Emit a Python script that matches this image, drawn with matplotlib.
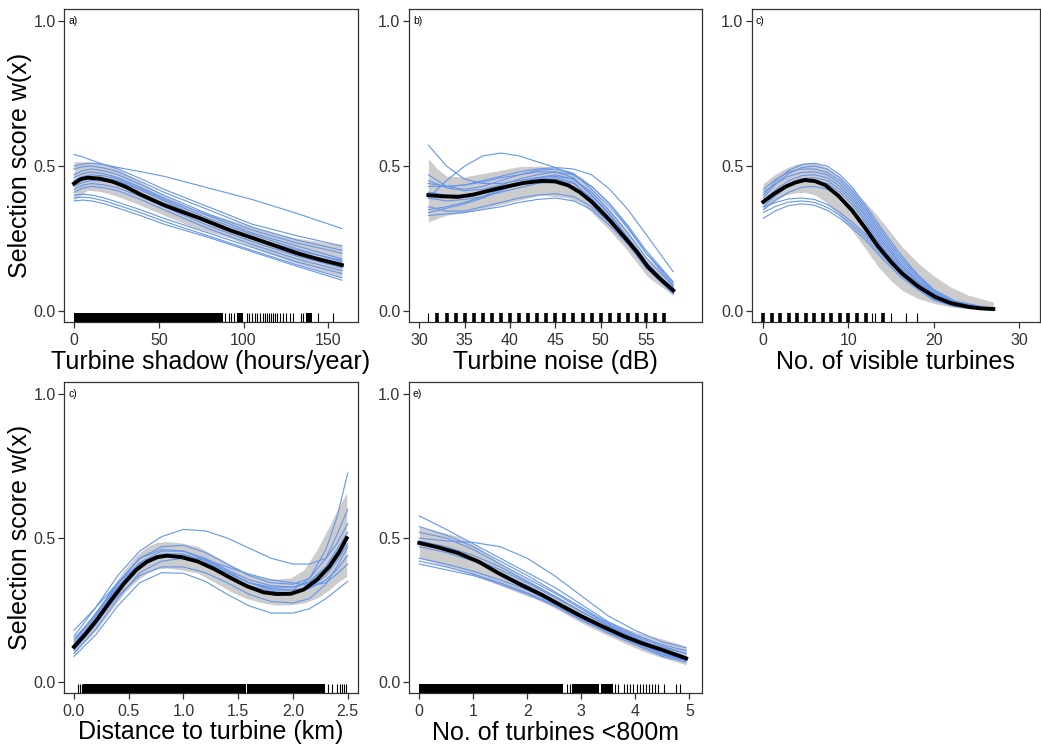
import numpy as np
import matplotlib.pyplot as plt

plt.rcParams['font.family'] = ['Liberation Sans', 'DejaVu Sans']

W, H = 1041, 749
GREY_RIBBON = '#cccccc'
BLUE = '#6495ed'
TICK_COL = '#333333'

#-------------------------------------
# a) Turbine shadow
#-------------------------------------
a_mean_x = [0, 4, 8, 15, 23, 30, 40, 53, 63, 73, 83, 92, 102, 112, 122, 132, 145, 158]
a_mean_y = [0.44, 0.455, 0.46, 0.457, 0.446, 0.43, 0.40, 0.366, 0.344, 0.323, 0.30,
            0.279, 0.259, 0.239, 0.219, 0.199, 0.178, 0.159]
a_rib_x = [0, 8, 15, 23.6, 35, 53, 70, 92.4, 112, 131.6, 158]
a_rib_hi = [0.515, 0.515, 0.51, 0.498, 0.46, 0.40, 0.353, 0.314, 0.279, 0.251, 0.228]
a_rib_lo = [0.383, 0.417, 0.413, 0.40, 0.375, 0.331, 0.29, 0.251, 0.205, 0.164, 0.118]
a_boot_x = [0, 5, 10.5, 18, 26, 40, 53, 79, 105, 131.5, 158]
a_boot = [
    [0.50, 0.507, 0.51, 0.505, 0.495, 0.48, 0.465, 0.425, 0.385, 0.337, 0.285],
    [0.54, 0.532, 0.52, 0.505, 0.49, 0.455, 0.42, 0.36, 0.30, 0.26, 0.225],
    [0.49, 0.498, 0.50, 0.493, 0.48, 0.445, 0.41, 0.35, 0.29, 0.245, 0.21],
    [0.47, 0.484, 0.49, 0.483, 0.47, 0.435, 0.40, 0.335, 0.28, 0.235, 0.20],
    [0.46, 0.474, 0.48, 0.473, 0.46, 0.425, 0.39, 0.33, 0.27, 0.225, 0.18],
    [0.45, 0.464, 0.47, 0.466, 0.455, 0.42, 0.385, 0.32, 0.265, 0.215, 0.17],
    [0.43, 0.444, 0.45, 0.448, 0.44, 0.405, 0.37, 0.305, 0.25, 0.20, 0.165],
    [0.42, 0.434, 0.44, 0.435, 0.425, 0.393, 0.36, 0.295, 0.24, 0.19, 0.15],
    [0.41, 0.424, 0.43, 0.425, 0.415, 0.383, 0.35, 0.285, 0.23, 0.18, 0.14],
    [0.40, 0.403, 0.40, 0.39, 0.375, 0.348, 0.32, 0.27, 0.22, 0.17, 0.13],
    [0.39, 0.393, 0.39, 0.38, 0.365, 0.338, 0.31, 0.26, 0.21, 0.16, 0.115],
    [0.38, 0.383, 0.38, 0.37, 0.355, 0.328, 0.30, 0.255, 0.205, 0.155, 0.107],
    [0.44, 0.454, 0.46, 0.457, 0.45, 0.415, 0.38, 0.31, 0.255, 0.21, 0.175],
]
a_rug_blocks = [(0, 87.7), (96.3, 99.8), (136.8, 140.1)]
a_rug = [89.2, 91.2, 92.7, 94.5, 101.8, 103.4, 105, 106.8, 108.1, 109.7, 111.3,
         112.6, 113.6, 114.8, 116, 117.2, 118.5, 119.9, 121.5, 123, 125, 127.4,
         129.3, 133.8, 134.8, 144, 152.5]

#-------------------------------------
# b) Turbine noise
#-------------------------------------
b_mean_x = [31, 32.5, 34.3, 36, 37.9, 40, 41.5, 43.5, 45, 46.4, 47.7, 49, 50.8,
            52.6, 54, 55.2, 56.6, 58]
b_mean_y = [0.40, 0.396, 0.394, 0.402, 0.417, 0.432, 0.442, 0.449, 0.447, 0.434,
            0.41, 0.377, 0.32, 0.256, 0.205, 0.153, 0.11, 0.072]
b_rib_x = [31, 32, 33, 35, 38, 41, 43.5, 46.4, 48, 49, 50.8, 52.6, 55.2, 58]
b_rib_hi = [0.526, 0.49, 0.465, 0.463, 0.48, 0.498, 0.50, 0.486, 0.46, 0.423, 0.36,
            0.291, 0.181, 0.101]
b_rib_lo = [0.308, 0.32, 0.331, 0.34, 0.36, 0.383, 0.40, 0.39, 0.37, 0.34, 0.285,
            0.222, 0.118, 0.055]
b_boot_x = [31, 33, 35, 37, 39, 41, 43, 45, 47, 49, 51, 53, 55, 58]
b_boot = [
    [0.39, 0.45, 0.50, 0.535, 0.545, 0.535, 0.515, 0.495, 0.47, 0.43, 0.37, 0.295, 0.21, 0.10],
    [0.572, 0.50, 0.455, 0.44, 0.44, 0.45, 0.46, 0.465, 0.455, 0.41, 0.345, 0.27, 0.185, 0.085],
    [0.44, 0.43, 0.435, 0.45, 0.465, 0.48, 0.49, 0.495, 0.49, 0.47, 0.42, 0.35, 0.265, 0.136],
    [0.47, 0.43, 0.42, 0.43, 0.45, 0.47, 0.485, 0.49, 0.475, 0.42, 0.36, 0.285, 0.20, 0.10],
    [0.43, 0.43, 0.435, 0.445, 0.46, 0.47, 0.48, 0.48, 0.46, 0.40, 0.335, 0.255, 0.17, 0.075],
    [0.34, 0.355, 0.37, 0.39, 0.415, 0.44, 0.46, 0.47, 0.455, 0.40, 0.33, 0.25, 0.165, 0.07],
    [0.36, 0.345, 0.345, 0.36, 0.375, 0.39, 0.40, 0.405, 0.395, 0.36, 0.305, 0.235, 0.155, 0.07],
    [0.33, 0.335, 0.34, 0.35, 0.36, 0.375, 0.385, 0.39, 0.38, 0.35, 0.295, 0.23, 0.15, 0.065],
    [0.41, 0.40, 0.40, 0.41, 0.42, 0.435, 0.45, 0.455, 0.44, 0.39, 0.32, 0.24, 0.155, 0.065],
    [0.39, 0.38, 0.385, 0.395, 0.41, 0.425, 0.44, 0.445, 0.43, 0.375, 0.31, 0.235, 0.15, 0.06],
    [0.45, 0.425, 0.415, 0.42, 0.435, 0.455, 0.47, 0.48, 0.47, 0.43, 0.37, 0.29, 0.20, 0.09],
    [0.35, 0.36, 0.375, 0.395, 0.42, 0.44, 0.455, 0.46, 0.445, 0.385, 0.315, 0.235, 0.155, 0.06],
]
b_rug_thick = [32, 33, 34, 35, 36, 37, 38, 39, 40, 41, 42, 43, 44, 45, 46, 47,
               48, 49, 50, 51, 52, 53, 54, 55, 56, 57]
b_rug = [31]

#-------------------------------------
# c) No. of visible turbines
#-------------------------------------
c_mean_x = [0, 1.3, 2.6, 3.8, 4.9, 6.1, 7.3, 8.8, 10.4, 12, 13.5, 15, 16.3, 18.2,
            20.2, 22, 24.1, 25.5, 27]
c_mean_y = [0.377, 0.405, 0.429, 0.444, 0.452, 0.448, 0.434, 0.398, 0.348, 0.285,
            0.222, 0.17, 0.13, 0.085, 0.049, 0.028, 0.015, 0.01, 0.008]
c_rib_x = [0, 1.3, 2.6, 3.8, 4.9, 6.1, 7.3, 8.8, 10.4, 12, 13.5, 15, 16.3, 18.2,
           20.2, 22, 24.1, 27]
c_rib_hi = [0.44, 0.47, 0.492, 0.506, 0.512, 0.51, 0.498, 0.468, 0.423, 0.375, 0.325,
            0.27, 0.222, 0.165, 0.118, 0.083, 0.055, 0.032]
c_rib_lo = [0.348, 0.377, 0.40, 0.408, 0.41, 0.40, 0.377, 0.333, 0.279, 0.215, 0.153,
            0.105, 0.072, 0.043, 0.026, 0.015, 0.008, 0.003]
c_boot_x = [0, 1.5, 3, 4.5, 6, 7.5, 9, 10.5, 12, 14, 16, 18, 20, 22.5, 27]
c_boot = [
    [0.40, 0.45, 0.485, 0.505, 0.51, 0.50, 0.47, 0.425, 0.365, 0.28, 0.20, 0.13, 0.075, 0.035, 0.008],
    [0.39, 0.44, 0.475, 0.495, 0.50, 0.49, 0.46, 0.415, 0.355, 0.27, 0.19, 0.125, 0.07, 0.032, 0.007],
    [0.41, 0.44, 0.465, 0.478, 0.48, 0.47, 0.44, 0.395, 0.335, 0.25, 0.17, 0.11, 0.062, 0.028, 0.006],
    [0.38, 0.42, 0.45, 0.467, 0.47, 0.46, 0.43, 0.385, 0.325, 0.24, 0.163, 0.105, 0.058, 0.026, 0.006],
    [0.37, 0.41, 0.44, 0.457, 0.46, 0.45, 0.42, 0.375, 0.315, 0.23, 0.155, 0.10, 0.054, 0.024, 0.005],
    [0.36, 0.40, 0.43, 0.447, 0.45, 0.44, 0.41, 0.365, 0.305, 0.22, 0.148, 0.095, 0.05, 0.022, 0.004],
    [0.35, 0.385, 0.41, 0.427, 0.43, 0.42, 0.395, 0.35, 0.295, 0.215, 0.145, 0.092, 0.05, 0.022, 0.004],
    [0.36, 0.375, 0.387, 0.39, 0.385, 0.368, 0.34, 0.305, 0.265, 0.20, 0.138, 0.088, 0.046, 0.02, 0.004],
    [0.34, 0.362, 0.376, 0.38, 0.375, 0.358, 0.33, 0.295, 0.255, 0.19, 0.13, 0.082, 0.042, 0.018, 0.003],
    [0.32, 0.347, 0.364, 0.37, 0.365, 0.348, 0.32, 0.285, 0.245, 0.18, 0.122, 0.077, 0.038, 0.016, 0.002],
    [0.42, 0.455, 0.48, 0.49, 0.49, 0.478, 0.45, 0.405, 0.345, 0.26, 0.18, 0.118, 0.066, 0.03, 0.007],
]
c_rug_thick = [0, 1, 2, 3, 4, 5, 6, 7, 8, 9, 10, 11, 12, 14]
c_rug = [12.8, 13.1, 15, 16.8, 18]

#-------------------------------------
# d) Distance to turbine
#-------------------------------------
d_mean_x = [0, 0.1, 0.21, 0.33, 0.46, 0.57, 0.67, 0.76, 0.85, 0.98, 1.13, 1.28, 1.43,
            1.58, 1.73, 1.85, 1.98, 2.1, 2.22, 2.33, 2.42, 2.49]
d_mean_y = [0.123, 0.165, 0.217, 0.28, 0.344, 0.39, 0.419, 0.434, 0.439, 0.434, 0.419,
            0.393, 0.362, 0.333, 0.312, 0.306, 0.307, 0.322, 0.356, 0.40, 0.45, 0.50]
d_rib_hi = [0.159, 0.20, 0.252, 0.32, 0.39, 0.44, 0.471, 0.485, 0.488, 0.483, 0.471,
            0.44, 0.408, 0.38, 0.362, 0.358, 0.362, 0.39, 0.46, 0.54, 0.61, 0.656]
d_rib_lo = [0.10, 0.14, 0.183, 0.245, 0.31, 0.352, 0.379, 0.393, 0.396, 0.39, 0.379,
            0.348, 0.315, 0.29, 0.275, 0.268, 0.269, 0.275, 0.292, 0.32, 0.35, 0.367]
d_boot_x = [0, 0.2, 0.4, 0.6, 0.8, 1.0, 1.2, 1.4, 1.6, 1.8, 2.0, 2.15, 2.3, 2.4, 2.5]
d_boot = [
    [0.16, 0.26, 0.37, 0.455, 0.505, 0.53, 0.525, 0.50, 0.465, 0.43, 0.41, 0.41, 0.43, 0.48, 0.55],
    [0.14, 0.24, 0.345, 0.43, 0.46, 0.455, 0.425, 0.385, 0.345, 0.32, 0.32, 0.36, 0.46, 0.57, 0.725],
    [0.13, 0.23, 0.34, 0.43, 0.47, 0.475, 0.45, 0.41, 0.37, 0.345, 0.34, 0.36, 0.43, 0.51, 0.60],
    [0.12, 0.22, 0.33, 0.415, 0.455, 0.455, 0.43, 0.39, 0.355, 0.335, 0.33, 0.345, 0.40, 0.46, 0.52],
    [0.15, 0.235, 0.33, 0.41, 0.445, 0.445, 0.42, 0.38, 0.345, 0.33, 0.33, 0.35, 0.40, 0.45, 0.50],
    [0.11, 0.20, 0.31, 0.40, 0.435, 0.435, 0.41, 0.37, 0.335, 0.315, 0.31, 0.325, 0.37, 0.42, 0.48],
    [0.10, 0.185, 0.29, 0.38, 0.42, 0.43, 0.415, 0.38, 0.345, 0.325, 0.32, 0.325, 0.355, 0.39, 0.44],
    [0.09, 0.165, 0.265, 0.345, 0.38, 0.378, 0.35, 0.305, 0.265, 0.24, 0.24, 0.255, 0.29, 0.32, 0.35],
    [0.13, 0.205, 0.30, 0.37, 0.40, 0.40, 0.38, 0.345, 0.305, 0.28, 0.275, 0.29, 0.34, 0.40, 0.47],
    [0.18, 0.26, 0.345, 0.41, 0.44, 0.44, 0.425, 0.40, 0.375, 0.355, 0.345, 0.335, 0.345, 0.375, 0.41],
]
d_rug_blocks = [(0.08, 1.57), (1.58, 2.29)]
d_rug = [0.035, 0.055, 0.07, 2.324, 2.354, 2.399, 2.428, 2.444, 2.466, 2.488]

#-------------------------------------
# e) No. of turbines <800m
#-------------------------------------
e_mean_x = [0, 0.35, 0.72, 1.1, 1.46, 1.85, 2.26, 2.63, 3.0, 3.4, 3.8, 4.1, 4.42, 4.7, 4.94]
e_mean_y = [0.483, 0.468, 0.448, 0.418, 0.379, 0.341, 0.304, 0.266, 0.229, 0.193,
            0.159, 0.137, 0.117, 0.099, 0.083]
e_rib_hi = [0.538, 0.523, 0.506, 0.466, 0.419, 0.373, 0.328, 0.29, 0.252, 0.219,
            0.188, 0.17, 0.154, 0.139, 0.125]
e_rib_lo = [0.431, 0.41, 0.39, 0.366, 0.338, 0.31, 0.281, 0.245, 0.206, 0.17,
            0.136, 0.111, 0.09, 0.074, 0.061]
e_boot_x = [0, 0.5, 1, 1.5, 2, 2.5, 3, 3.5, 4, 4.5, 4.94]
e_boot = [
    [0.50, 0.49, 0.485, 0.47, 0.43, 0.37, 0.30, 0.23, 0.18, 0.14, 0.12],
    [0.577, 0.53, 0.48, 0.43, 0.38, 0.33, 0.27, 0.21, 0.165, 0.13, 0.11],
    [0.54, 0.51, 0.47, 0.42, 0.37, 0.315, 0.26, 0.205, 0.16, 0.125, 0.10],
    [0.52, 0.50, 0.46, 0.41, 0.36, 0.31, 0.255, 0.20, 0.155, 0.115, 0.09],
    [0.49, 0.47, 0.44, 0.40, 0.35, 0.30, 0.245, 0.195, 0.15, 0.11, 0.085],
    [0.47, 0.45, 0.42, 0.38, 0.335, 0.285, 0.235, 0.185, 0.14, 0.10, 0.075],
    [0.43, 0.41, 0.385, 0.355, 0.32, 0.275, 0.225, 0.18, 0.14, 0.10, 0.08],
    [0.42, 0.40, 0.375, 0.345, 0.31, 0.27, 0.22, 0.175, 0.135, 0.095, 0.075],
    [0.41, 0.39, 0.37, 0.34, 0.305, 0.265, 0.215, 0.17, 0.13, 0.09, 0.07],
    [0.48, 0.46, 0.43, 0.39, 0.345, 0.295, 0.245, 0.195, 0.15, 0.12, 0.10],
]
e_rug_blocks = [(0, 2.67), (2.83, 3.33), (3.37, 3.58)]
e_rug = [2.73, 2.79, 3.62, 3.685, 3.79, 3.85, 3.91, 3.965, 4.04, 4.08, 4.14, 4.19,
         4.245, 4.305, 4.36, 4.42, 4.535, 4.76, 4.82]


def make_axes(fig, left, right, top, bottom):
    return fig.add_axes([left / W, 1 - bottom / H, (right - left) / W, (bottom - top) / H])


def draw_panel(ax, letter, xlabel, xlim, xticks, xfmt,
               rib_x, rib_hi, rib_lo, boot_x, boot, mean_x, mean_y,
               rug_blocks=(), rug=(), rug_thick=(), ylabel=True):
    ax.fill_between(rib_x, rib_lo, rib_hi, color=GREY_RIBBON, lw=0, zorder=1)
    for yy in boot:
        ax.plot(boot_x, yy, color=BLUE, lw=0.8, zorder=2)
    ax.plot(mean_x, mean_y, color='black', lw=2.8, zorder=3)

    # rug along the bottom (3% of panel height)
    trans = ax.get_xaxis_transform()
    if rug_blocks:
        ax.broken_barh([(s, e - s) for s, e in rug_blocks], (0, 0.03),
                       transform=trans, color='black', lw=0, zorder=4)
    if rug:
        ax.vlines(rug, 0, 0.03, transform=trans, color='black', lw=0.8, zorder=4)
    if rug_thick:
        ax.vlines(rug_thick, 0, 0.03, transform=trans, color='black', lw=2.6, zorder=4)

    ax.set_xlim(*xlim)
    ax.set_ylim(-0.037, 1.041)
    ax.set_xticks(xticks)
    ax.set_xticklabels([xfmt.format(t) for t in xticks])
    ax.set_yticks([0.0, 0.5, 1.0])
    ax.set_yticklabels(['0.0', '0.5', '1.0'])
    ax.tick_params(direction='out', length=4, width=0.9, color=TICK_COL,
                   labelcolor=TICK_COL, labelsize=11.5)
    ax.tick_params(axis='x', pad=4)
    ax.tick_params(axis='y', pad=2)
    for s in ax.spines.values():
        s.set_color(TICK_COL)
        s.set_linewidth(0.9)
    ax.set_xlabel(xlabel, fontsize=18, labelpad=1)
    if ylabel:
        ax.set_ylabel('Selection score w(x)', fontsize=18, labelpad=1)
    ax.annotate(letter, xy=(0, 1.0), xycoords=('axes fraction', 'data'),
                xytext=(3, 0), textcoords='offset points',
                fontsize=7.5, va='center', ha='left')


fig = plt.figure(figsize=(W / 100, H / 100), dpi=100)

ax_a = make_axes(fig, 64, 358, 9, 322)
ax_b = make_axes(fig, 408.7, 702, 9, 322)
ax_c = make_axes(fig, 751.7, 1040, 9, 322)
ax_d = make_axes(fig, 64, 357.7, 382, 693)
ax_e = make_axes(fig, 408.7, 702.3, 382, 693)

draw_panel(ax_a, 'a)', 'Turbine shadow (hours/year)', (-5.9, 167.5), [0, 50, 100, 150], '{:d}',
           a_rib_x, a_rib_hi, a_rib_lo, a_boot_x, a_boot, a_mean_x, a_mean_y,
           rug_blocks=a_rug_blocks, rug=a_rug)
draw_panel(ax_b, 'b)', 'Turbine noise (dB)', (28.83, 61.17), [30, 35, 40, 45, 50, 55], '{:d}',
           b_rib_x, b_rib_hi, b_rib_lo, b_boot_x, b_boot, b_mean_x, b_mean_y,
           rug=b_rug, rug_thick=b_rug_thick, ylabel=False)
draw_panel(ax_c, 'c)', 'No. of visible turbines', (-1.36, 32.48), [0, 10, 20, 30], '{:d}',
           c_rib_x, c_rib_hi, c_rib_lo, c_boot_x, c_boot, c_mean_x, c_mean_y,
           rug=c_rug, rug_thick=c_rug_thick, ylabel=False)
draw_panel(ax_d, 'c)', 'Distance to turbine (km)', (-0.091, 2.591), [0.0, 0.5, 1.0, 1.5, 2.0, 2.5], '{:.1f}',
           d_mean_x, d_rib_hi, d_rib_lo, d_boot_x, d_boot, d_mean_x, d_mean_y,
           rug_blocks=d_rug_blocks, rug=d_rug)
draw_panel(ax_e, 'e)', 'No. of turbines <800m', (-0.196, 5.24), [0, 1, 2, 3, 4, 5], '{:d}',
           e_mean_x, e_rib_hi, e_rib_lo, e_boot_x, e_boot, e_mean_x, e_mean_y,
           rug_blocks=e_rug_blocks, rug=e_rug, ylabel=False)

fig.savefig('out.png', dpi=100)
